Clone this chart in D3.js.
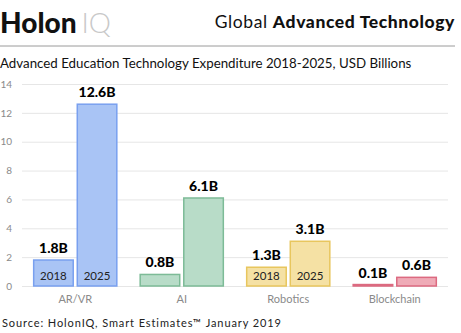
<!DOCTYPE html>
<html>
<head>
<meta charset="utf-8">
<script src="https://cdn.jsdelivr.net/npm/d3@7"></script>
<style>
  body { margin: 0; background: #fff; }
  svg { display: block; font-family: Lato, "Open Sans", sans-serif; }
</style>
</head>
<body>
<svg id="chart" width="461" height="333"></svg>
<script>
var categories = ['AR/VR', 'AI', 'Robotics', 'Blockchain'];
var years = ['2018', '2025'];
var values2018 = [1.8, 0.8, 1.3, 0.1];
var values2025 = [12.6, 6.1, 3.1, 0.6];
var yTicks = [0, 2, 4, 6, 8, 10, 12, 14];
// only these groups get the year printed inside the bars
var yearLabelGroups = ['AR/VR', 'Robotics'];

var fills = ['#a9c4f5', '#b8dcc8', '#f5e1a4', '#efabb7'];
var strokes = ['#79a0ef', '#7dbb97', '#e8c65e', '#dc6a80'];

function buildChart() {
  var svg = d3.select('#chart');

  // header
  var head = svg.append('text').attr('x', 0).attr('y', 33)
    .style('font-size', '28px');
  head.append('tspan').text('Holon').style('font-weight', 900).attr('fill', '#111');
  head.append('tspan').attr('dx', 5).text('IQ').style('font-weight', 300).attr('fill', '#c8c8c8');

  var title = svg.append('text').attr('x', 455).attr('y', 28)
    .attr('text-anchor', 'end').style('font-size', '17.5px')
    .style('letter-spacing', '0.6px').attr('fill', '#111');
  title.append('tspan').text('Global ').style('font-weight', 400);
  title.append('tspan').text('Advanced Technology').style('font-weight', 900);

  svg.append('line')
    .attr('x1', 0).attr('x2', 455).attr('y1', 46).attr('y2', 46)
    .attr('stroke', '#9a9a9a').attr('stroke-width', 1);

  svg.append('text').attr('x', 0).attr('y', 68)
    .style('font-size', '13.3px').attr('fill', '#111')
    .text('Advanced Education Technology Expenditure 2018-2025, USD Billions');

  // scales
  var xScale = d3.scaleBand()
    .domain(categories)
    .range([22, 448])
    .paddingInner(0.21)
    .paddingOuter(0.105);
  var subScale = d3.scaleBand()
    .domain(years)
    .range([0, xScale.bandwidth()])
    .paddingInner(0.07);
  var yScale = d3.scaleLinear()
    .domain([0, 14])
    .range([286, 84]);

  // gridlines + tick labels
  var yAxisG = svg.append('g')
    .attr('transform', 'translate(448,0)')
    .call(d3.axisLeft(yScale).tickValues(yTicks).tickSize(426).tickPadding(10));
  yAxisG.select('.domain').remove();
  yAxisG.selectAll('.tick line').attr('stroke', '#e6e6e6');
  yAxisG.selectAll('.tick text')
    .attr('fill', '#8a8a8a')
    .style('font-size', '10px')
    .style('font-family', 'Lato, sans-serif');

  var rows = categories.map(function(c, i) {
    return { cat: c, idx: i, vals: [values2018[i], values2025[i]] };
  });

  var groups = svg.selectAll('.group')
    .data(rows)
    .enter()
    .append('g')
    .attr('class', 'group')
    .attr('transform', function(d) { return 'translate(' + [xScale(d.cat), 0] + ')'; });

  var bars = groups.selectAll('.bar')
    .data(function(d) {
      return years.map(function(y, j) {
        return { cat: d.cat, idx: d.idx, year: y, value: d.vals[j] };
      });
    })
    .enter()
    .append('g')
    .attr('class', 'bar');

  bars.append('rect')
    .attr('x', function(d) { return subScale(d.year) + 0.5; })
    .attr('y', function(d) { return yScale(d.value); })
    .attr('width', subScale.bandwidth() - 1)
    .attr('height', function(d) { return yScale(0) - yScale(d.value); })
    .attr('fill', function(d) { return fills[d.idx]; })
    .attr('stroke', function(d) { return strokes[d.idx]; })
    .attr('stroke-width', 1.5);

  // value labels above the bars
  bars.append('text')
    .attr('x', function(d) { return subScale(d.year) + subScale.bandwidth() / 2; })
    .attr('y', function(d) { return yScale(d.value) - 7; })
    .attr('text-anchor', 'middle')
    .style('font-size', '14px')
    .style('font-weight', 900)
    .attr('fill', '#000')
    .text(function(d) { return d.value.toFixed(1) + 'B'; });

  // year labels inside the bars
  bars.filter(function(d) { return yearLabelGroups.indexOf(d.cat) >= 0; })
    .append('text')
    .attr('x', function(d) { return subScale(d.year) + subScale.bandwidth() / 2; })
    .attr('y', yScale(0) - 6)
    .attr('text-anchor', 'middle')
    .style('font-size', '11.5px')
    .attr('fill', '#222')
    .text(function(d) { return d.year; });

  // category labels
  svg.selectAll('.cat-label')
    .data(categories)
    .enter()
    .append('text')
    .attr('class', 'cat-label')
    .attr('x', function(d) { return xScale(d) + xScale.bandwidth() / 2; })
    .attr('y', 303)
    .attr('text-anchor', 'middle')
    .style('font-size', '11px')
    .attr('fill', '#8a8a8a')
    .text(function(d) { return d; });

  svg.append('text').attr('x', 2).attr('y', 327)
    .style('font-size', '11px').style('letter-spacing', '0.9px').attr('fill', '#222')
    .text('Source: HolonIQ, Smart Estimates\u2122 January 2019');
}

buildChart();
</script>
</body>
</html>
